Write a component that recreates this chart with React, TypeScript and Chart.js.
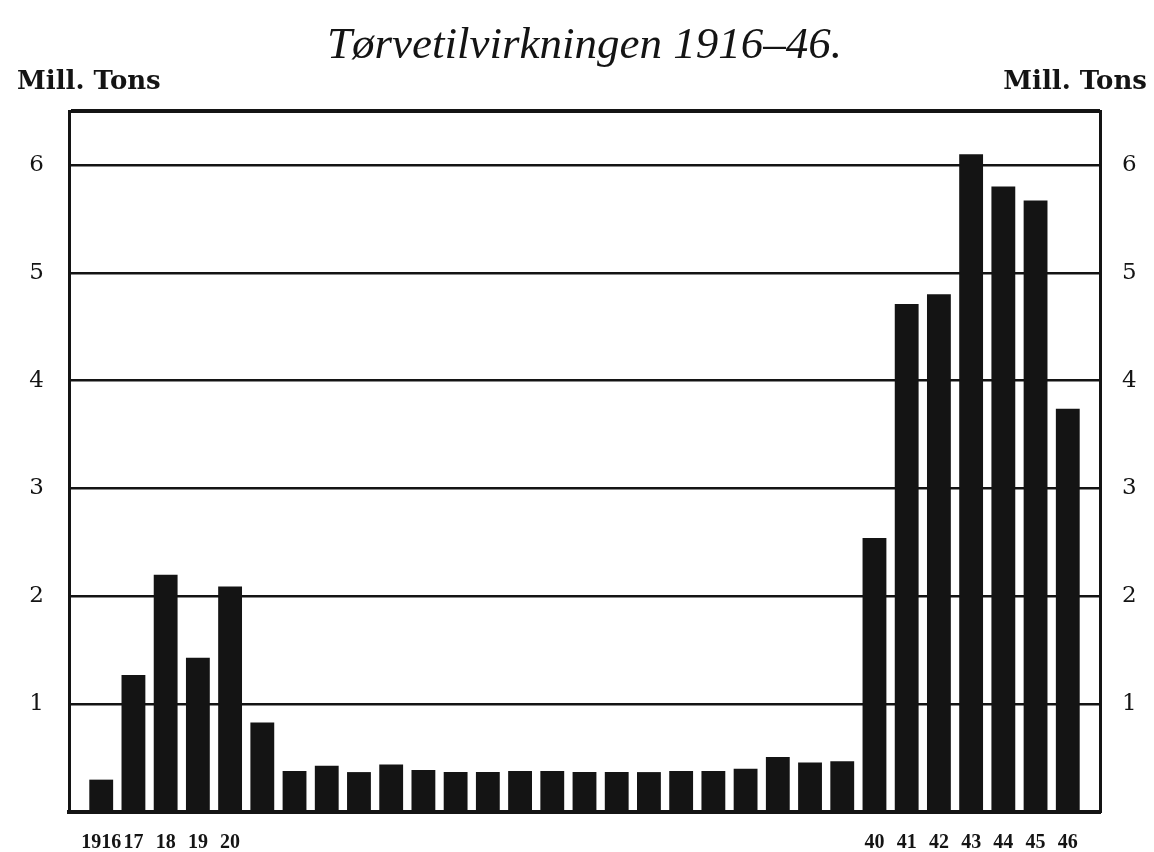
import React, { useEffect, useRef } from 'react';
import { Chart, registerables } from 'chart.js';

Chart.register(...registerables);

// ---- data ----
const titleText = 'Tørvetilvirkningen 1916–46.';
const unitLabel = 'Mill. Tons';

const years = [
  1916, 1917, 1918, 1919, 1920, 1921, 1922, 1923, 1924, 1925, 1926,
  1927, 1928, 1929, 1930, 1931, 1932, 1933, 1934, 1935, 1936, 1937,
  1938, 1939, 1940, 1941, 1942, 1943, 1944, 1945, 1946,
];

// million tons
const production = [
  0.30, 1.27, 2.20, 1.43, 2.09, 0.83, 0.38, 0.43, 0.37, 0.44, 0.39,
  0.37, 0.37, 0.38, 0.38, 0.37, 0.37, 0.37, 0.38, 0.38, 0.40, 0.51,
  0.46, 0.47, 2.54, 4.71, 4.80, 6.10, 5.80, 5.67, 3.74,
];

const xTickYears = [1916, 1917, 1918, 1919, 1920, 1940, 1941, 1942, 1943, 1944, 1945, 1946];
const xTickTexts = ['1916', '17', '18', '19', '20', '40', '41', '42', '43', '44', '45', '46'];

const yTickValues = [1, 2, 3, 4, 5, 6];
const yTickTexts = ['1', '2', '3', '4', '5', '6'];

const xMin = 1915;
const xMax = 1947;
const yMin = 0;
const yMax = 6.5;

const INK = '#141414';

const yLabel = (value: number) => {
  const i = yTickValues.indexOf(value);
  return i >= 0 ? yTickTexts[i] : '';
};

const headerPlugin = {
  id: 'headerTexts',
  afterDraw(chart: any) {
    const { ctx, chartArea } = chart;
    ctx.save();
    ctx.fillStyle = INK;
    ctx.textBaseline = 'alphabetic';
    ctx.font = 'italic 45px "Liberation Serif"';
    ctx.textAlign = 'center';
    ctx.fillText(titleText, (chartArea.left + chartArea.right) / 2, 58);
    ctx.font = 'bold 26px "DejaVu Serif"';
    ctx.textAlign = 'left';
    ctx.fillText(unitLabel, 17, 89);
    ctx.textAlign = 'right';
    ctx.fillText(unitLabel, chart.width - 7, 89);
    ctx.restore();
  },
};

export default function App() {
  const canvasRef = useRef<HTMLCanvasElement | null>(null);

  useEffect(() => {
    const canvas = canvasRef.current;
    if (!canvas) return;
    const chart = new Chart(canvas, {
      type: 'bar',
      data: {
        datasets: [
          {
            label: unitLabel,
            data: years.map((yr, i) => ({ x: yr, y: production[i] })),
            backgroundColor: INK,
            borderWidth: 0,
            barPercentage: 0.74,
            categoryPercentage: 1,
            yAxisID: 'y',
          },
        ],
      },
      options: {
        responsive: false,
        animation: false,
        layout: { padding: { top: 111, left: 0, right: 0, bottom: 0 } },
        plugins: {
          legend: { display: false },
          title: { display: false },
          tooltip: { enabled: false },
        },
        scales: {
          x: {
            type: 'linear',
            min: xMin,
            max: xMax,
            offset: false,
            grid: { display: false, drawTicks: false, offset: false },
            border: { display: true, color: INK, width: 4 },
            afterBuildTicks: (scale: any) => {
              scale.ticks = xTickYears.map((v) => ({ value: v }));
            },
            afterFit: (scale: any) => {
              scale.height = 40;
            },
            ticks: {
              autoSkip: false,
              maxRotation: 0,
              minRotation: 0,
              padding: 19,
              color: INK,
              font: { family: '"Liberation Serif"', size: 20, weight: 'bold' },
              callback: (value: any) => {
                const i = xTickYears.indexOf(Number(value));
                return i >= 0 ? xTickTexts[i] : '';
              },
            },
          },
          y: {
            position: 'left',
            min: yMin,
            max: yMax,
            afterBuildTicks: (scale: any) => {
              scale.ticks = [yMin, ...yTickValues, yMax].map((v) => ({ value: v }));
            },
            afterFit: (scale: any) => {
              scale.width = 69;
            },
            grid: {
              drawTicks: false,
              color: INK,
              lineWidth: (c: any) => (c.tick && (c.tick.value === yMax || c.tick.value === yMin) ? 4 : 2.5),
            },
            border: { display: true, color: INK, width: 3 },
            ticks: {
              padding: 25,
              color: INK,
              font: { family: '"DejaVu Serif"', size: 23 },
              callback: (value: any) => yLabel(Number(value)),
            },
          },
          yRight: {
            position: 'right',
            min: yMin,
            max: yMax,
            afterBuildTicks: (scale: any) => {
              scale.ticks = [yMin, ...yTickValues, yMax].map((v) => ({ value: v }));
            },
            afterFit: (scale: any) => {
              scale.width = 54;
            },
            grid: { display: false, drawTicks: false },
            border: { display: true, color: INK, width: 3 },
            ticks: {
              padding: 22,
              color: INK,
              font: { family: '"DejaVu Serif"', size: 23 },
              callback: (value: any) => yLabel(Number(value)),
            },
          },
        },
      },
      plugins: [headerPlugin],
    } as any);
    return () => chart.destroy();
  }, []);

  return (
    <div style={{ position: 'absolute', left: 0, top: 0, width: 1154, height: 852, background: '#ffffff' }}>
      <canvas ref={canvasRef} width={1154} height={852} style={{ display: 'block' }} />
    </div>
  );
}
